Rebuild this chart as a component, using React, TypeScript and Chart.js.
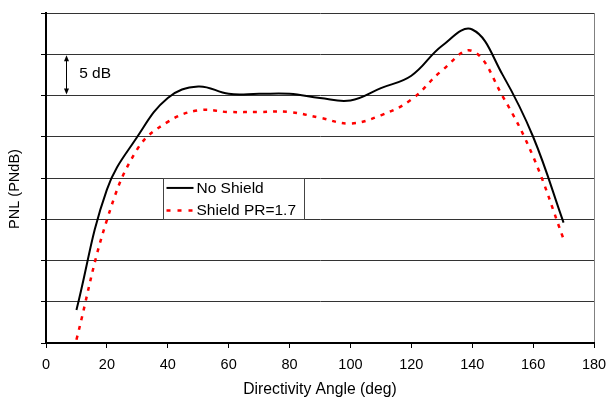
import React, { useEffect, useRef } from 'react';
import { Chart, registerables } from 'chart.js';

Chart.register(...registerables);

const angles = [10, 20, 30, 40, 50, 60, 70, 80, 90, 100, 110, 120, 130, 140, 150, 160, 170];
const noShield = [4.0, 18.6, 25.0, 29.7, 31.1, 30.2, 30.2, 30.2, 29.7, 29.4, 30.9, 32.4, 36.0, 38.0, 32.5, 25.0, 14.6];
const shield = [0.4, 14.9, 23.5, 26.8, 28.2, 28.0, 28.0, 28.0, 27.3, 26.6, 27.6, 29.5, 33.0, 35.4, 29.9, 22.6, 12.6];
const xTicks = [0, 20, 40, 60, 80, 100, 120, 140, 160, 180];
const seriesLabels = ['No Shield', 'Shield PR=1.7'];
const xTitle = 'Directivity Angle (deg)';
const yTitle = 'PNL (PNdB)';
const scaleNote = '5 dB';

const FONT = '"Liberation Sans", Arial, sans-serif';

export default function App() {
  const ref = useRef<HTMLCanvasElement>(null);

  useEffect(() => {
    const overlay = {
      id: 'overlay',
      afterDraw(chart: any) {
        const { ctx } = chart;
        const x = chart.scales.x;
        const y = chart.scales.y;
        ctx.save();
        // y title (custom position, slightly below centre)
        ctx.save();
        ctx.translate(15, 189);
        ctx.rotate(-Math.PI / 2);
        ctx.fillStyle = '#000';
        ctx.font = `14.5px ${FONT}`;
        ctx.textAlign = 'center';
        ctx.textBaseline = 'middle';
        ctx.fillText(yTitle, 0, 0);
        ctx.restore();

        // 5 dB arrow
        const ax = Math.round(x.getPixelForValue(6.7)) + 0.5;
        const y1 = y.getPixelForValue(35) + 1;
        const y2 = y.getPixelForValue(30) - 1;
        ctx.strokeStyle = '#000';
        ctx.fillStyle = '#000';
        ctx.lineWidth = 1;
        ctx.beginPath();
        ctx.moveTo(ax, y1 + 4);
        ctx.lineTo(ax, y2 - 4);
        ctx.stroke();
        ctx.beginPath();
        ctx.moveTo(ax, y1);
        ctx.lineTo(ax - 2.5, y1 + 6);
        ctx.lineTo(ax + 2.5, y1 + 6);
        ctx.closePath();
        ctx.fill();
        ctx.beginPath();
        ctx.moveTo(ax, y2);
        ctx.lineTo(ax - 2.5, y2 - 6);
        ctx.lineTo(ax + 2.5, y2 - 6);
        ctx.closePath();
        ctx.fill();
        ctx.font = `15.5px ${FONT}`;
        ctx.textBaseline = 'middle';
        ctx.textAlign = 'left';
        ctx.fillText(scaleNote, x.getPixelForValue(10.9), y.getPixelForValue(32.6));

        // legend box
        const lx1 = Math.round(x.getPixelForValue(38.3)) + 0.5;
        const lx2 = Math.round(x.getPixelForValue(84.7)) + 0.5;
        const ly1 = Math.round(y.getPixelForValue(20)) + 0.5;
        const ly2 = Math.round(y.getPixelForValue(15)) + 0.5;
        ctx.fillStyle = '#fff';
        ctx.fillRect(lx1, ly1, lx2 - lx1, ly2 - ly1);
        ctx.strokeStyle = '#444';
        ctx.lineWidth = 1;
        ctx.strokeRect(lx1, ly1, lx2 - lx1, ly2 - ly1);
        const rowA = ly1 + (ly2 - ly1) * 0.23;
        const rowB = ly1 + (ly2 - ly1) * 0.78;
        ctx.strokeStyle = '#000';
        ctx.lineWidth = 2;
        ctx.beginPath();
        ctx.moveTo(lx1 + 3, rowA);
        ctx.lineTo(lx1 + 30, rowA);
        ctx.stroke();
        ctx.strokeStyle = '#ff0000';
        ctx.lineWidth = 2.5;
        ctx.setLineDash([4, 7]);
        ctx.beginPath();
        ctx.moveTo(lx1 + 3, rowB);
        ctx.lineTo(lx1 + 30, rowB);
        ctx.stroke();
        ctx.setLineDash([]);
        ctx.fillStyle = '#000';
        ctx.font = `15.5px ${FONT}`;
        ctx.fillText(seriesLabels[0], lx1 + 33, rowA + 0.5);
        ctx.fillText(seriesLabels[1], lx1 + 33, rowB + 0.5);
        ctx.restore();
      },
    };

    const chart = new Chart(ref.current as HTMLCanvasElement, {
      type: 'line',
      data: {
        datasets: [
          {
            label: seriesLabels[0],
            data: angles.map((a, i) => ({ x: a, y: noShield[i] })),
            borderColor: '#000',
            borderWidth: 2,
            pointRadius: 0,
            tension: 0.4,
            fill: false,
          },
          {
            label: seriesLabels[1],
            data: angles.map((a, i) => ({ x: a, y: shield[i] })),
            borderColor: '#ff0000',
            borderWidth: 2.5,
            borderDash: [4, 6],
            pointRadius: 0,
            tension: 0.4,
            fill: false,
          },
        ],
      },
      options: {
        animation: false,
        responsive: false,
        devicePixelRatio: 1,
        layout: { padding: { top: 13, right: 15, left: 0, bottom: 0 } },
        plugins: { legend: { display: false }, tooltip: { enabled: false } },
        scales: {
          x: {
            type: 'linear',
            min: 0,
            max: 180,
            afterBuildTicks: (s: any) => {
              s.ticks = xTicks.map((v) => ({ value: v }));
            },
            afterFit: (s: any) => {
              s.height = 55;
              s.paddingLeft = 0;
              s.paddingRight = 0;
            },
            ticks: {
              color: '#000',
              font: { family: FONT, size: 14.5 },
              padding: 8,
              maxRotation: 0,
            },
            grid: {
              color: (c: any) => (c.tick && c.tick.value === 180 ? '#808080' : 'rgba(0,0,0,0)'),
              tickColor: '#000',
              tickLength: 5,
              lineWidth: 1,
            },
            border: { color: '#000', width: 2 },
            title: {
              display: true,
              text: xTitle,
              color: '#000',
              font: { family: FONT, size: 15.7, lineHeight: 1 },
              padding: { top: 0, bottom: 0 },
            },
          },
          y: {
            type: 'linear',
            min: 0,
            max: 40,
            ticks: { stepSize: 5, display: false },
            afterFit: (s: any) => {
              s.width = 46;
              s.paddingTop = 0;
              s.paddingBottom = 0;
            },
            grid: {
              color: '#333',
              tickColor: '#000',
              tickLength: 5,
              lineWidth: 1,
            },
            border: { color: '#000', width: 2 },
            title: { display: false },
          },
        },
      },
      plugins: [overlay],
    } as any);
    return () => chart.destroy();
  }, []);

  return (
    <canvas
      ref={ref}
      width={609}
      height={398}
      style={{ position: 'absolute', left: 0, top: 0, display: 'block' }}
    />
  );
}
